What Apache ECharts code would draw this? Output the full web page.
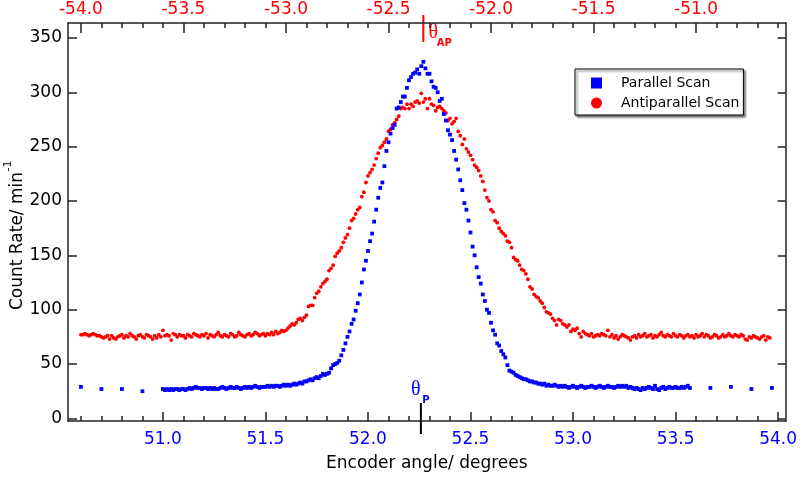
<!DOCTYPE html>
<html><head><meta charset="utf-8">
<script src="https://cdn.jsdelivr.net/npm/echarts@6/dist/echarts.min.js"></script>
<style>html,body{margin:0;padding:0;background:#fff}#c{width:800px;height:477px}</style>
</head><body><div id="c"></div>
<script>
// ---- data ----
const parallelStart = 51.00, parallelStep = 0.01;
const parallelValues = [
27,26,27,26,27,26,27,27,26,27,
27,26,27,28,27,28,29,28,28,27,
28,28,27,28,27,28,27,27,28,29,
28,27,28,29,28,28,29,28,27,28,
29,28,29,28,29,30,29,28,29,29,
29,30,29,30,29,30,30,29,30,31,
30,31,30,31,32,31,32,33,32,34,
34,35,36,35,37,38,37,39,41,40,
41,42,46,49,50,51,53,58,63,69,
75,80,87,91,99,106,114,125,137,145,
154,163,170,181,192,203,212,217,232,246,
254,262,267,270,285,286,291,296,296,304,
311,314,317,318,321,317,324,328,322,317,
317,310,305,304,300,292,294,280,274,265,
261,256,246,238,229,219,210,198,192,182,
171,158,150,139,130,124,114,108,100,97,
88,81,77,69,67,62,59,56,49,44,
43,42,40,39,38,37,36,36,35,34,
34,33,33,32,32,31,32,30,31,30,
30,31,30,29,30,29,30,29,28,29,
30,29,28,29,30,29,28,29,29,30,
29,28,29,30,29,28,29,30,29,29,
28,29,30,29,30,29,30,28,29,28,
27,28,27,26,28,27,28,29,28,27,
30,27,26,28,29,27,28,29,28,28,
29,28,28,29,28,29,30,28
];
const parallelSparseAngles = [50.60,50.70,50.80,50.90,53.67,53.77,53.87,53.97];
const parallelSparseValues = [29,27,27,25,28,29,27,28];

const antiStart = 50.60, antiStep = 0.01;
const antiValues = [
77,77,78,77,76,77,78,77,76,76,
75,74,75,76,73,76,74,73,75,76,
77,74,76,75,78,76,75,73,76,77,
75,74,77,76,75,73,76,74,77,75,
81,76,77,76,72,78,77,75,77,76,
76,74,77,76,75,78,77,76,75,77,
76,78,74,77,76,75,77,79,76,75,
77,76,75,78,77,75,76,79,77,76,
75,77,78,76,77,79,78,76,77,78,
76,78,77,79,77,80,78,79,81,80,
81,83,85,87,86,88,91,92,90,93,
95,103,104,104,111,115,117,121,124,126,
128,136,138,141,149,152,154,157,162,166,
169,175,182,184,188,192,194,204,208,217,
223,226,229,233,239,244,249,251,254,257,
264,266,270,272,275,278,285,286,285,289,
285,289,287,291,292,290,299,291,294,285,
294,289,288,283,286,287,285,283,281,274,
276,271,273,276,264,260,252,257,248,245,
242,238,233,231,228,223,218,210,203,200,
192,190,182,180,175,172,170,168,163,162,
157,148,146,145,141,137,136,133,128,121,
119,114,112,111,108,106,102,98,97,96,
92,90,86,91,90,87,86,84,86,80,
82,81,83,78,75,80,78,77,76,78,
75,76,77,76,78,77,76,81,75,77,
74,76,73,75,77,76,75,74,72,75,
76,74,77,75,76,78,75,76,77,74,
76,75,77,79,76,75,77,76,75,78,
76,75,77,76,74,76,77,75,76,74,
77,75,76,78,75,77,76,74,75,77,
76,74,75,77,75,76,78,76,75,77,
76,75,77,76,73,72,75,74,76,75,
74,73,75,76,72,75,74
];

const bottomLabels = [51.0,51.5,52.0,52.5,53.0,53.5,54.0];
const bottomMinorTicks = [50.6,50.7,50.8,50.9,51.0,51.1,51.2,51.3,51.4,51.5,51.6,51.7,51.8,51.9,52.0,52.1,52.2,52.3,52.4,52.5,52.6,52.7,52.8,52.9,53.0,53.1,53.2,53.3,53.4,53.5,53.6,53.7,53.8,53.9,54.0];
const topLabels = [-54.0,-53.5,-53.0,-52.5,-52.0,-51.5,-51.0];
const topMinorTicks = [-54.0,-53.9,-53.8,-53.7,-53.6,-53.5,-53.4,-53.3,-53.2,-53.1,-53.0,-52.9,-52.8,-52.7,-52.6,-52.5,-52.4,-52.3,-52.2,-52.1,-52.0,-51.9,-51.8,-51.7,-51.6,-51.5,-51.4,-51.3,-51.2,-51.1,-51.0,-50.9,-50.8,-50.7,-50.6];
const yLabels = [0,50,100,150,200,250,300,350];
const thetaP = 52.258;   // bottom-axis position of theta_P marker
const thetaAP = -52.33;  // top-axis position of theta_AP marker

// ---- build ----
const FONT = 'DejaVu Sans';
const parallelData = parallelValues.map((v,i)=>[+(parallelStart+i*parallelStep).toFixed(3), v]);
parallelSparseAngles.forEach((a,i)=>parallelData.push([a, parallelSparseValues[i]]));
const antiData = antiValues.map((v,i)=>[+(antiStart+i*antiStep).toFixed(3), v]);

const BMIN = 50.537, BMAX = 54.037, TMIN = -54.063, TMAX = -50.563;
const YMIN = -2.4, YMAX = 363.7;
const lineStyle = {color:'#222', width:1.5};

const chart = echarts.init(document.getElementById('c'), null, {renderer:'canvas'});
chart.setOption({
  animation:false,
  backgroundColor:'#fff',
  grid:{left:68, right:12, top:23, bottom:52, containLabel:false},
  xAxis:[
    {type:'value', position:'bottom', min:BMIN, max:BMAX,
     axisLine:{show:true, onZero:false, lineStyle},
     axisTick:{show:true, inside:true, length:9, customValues:bottomLabels, lineStyle},
     axisLabel:{customValues:bottomLabels, formatter:v=>v.toFixed(1), color:'#0000ff', fontSize:17, fontFamily:FONT, margin:10},
     splitLine:{show:false},
     name:'Encoder angle/ degrees', nameLocation:'middle', nameGap:34,
     nameTextStyle:{fontSize:17, fontFamily:FONT, color:'#000'}},
    {type:'value', position:'bottom', min:BMIN, max:BMAX,
     axisLine:{show:false, onZero:false},
     axisTick:{show:true, inside:true, length:5, customValues:bottomMinorTicks, lineStyle},
     axisLabel:{show:false}, splitLine:{show:false}},
    {type:'value', position:'top', min:TMIN, max:TMAX,
     axisLine:{show:true, onZero:false, lineStyle},
     axisTick:{show:true, inside:true, length:10, customValues:topLabels, lineStyle},
     axisLabel:{customValues:topLabels, formatter:v=>v.toFixed(1), color:'#ff0000', fontSize:17, fontFamily:FONT, margin:5},
     splitLine:{show:false}},
    {type:'value', position:'top', min:TMIN, max:TMAX,
     axisLine:{show:false, onZero:false},
     axisTick:{show:true, inside:true, length:5, customValues:topMinorTicks, lineStyle},
     axisLabel:{show:false}, splitLine:{show:false}}
  ],
  yAxis:[
    {type:'value', position:'left', min:YMIN, max:YMAX,
     axisLine:{show:true, onZero:false, lineStyle},
     axisTick:{show:true, inside:true, length:9, customValues:yLabels, lineStyle},
     axisLabel:{customValues:yLabels, color:'#000', fontSize:17, fontFamily:FONT, margin:6},
     splitLine:{show:false}},
    {type:'value', position:'right', min:YMIN, max:YMAX,
     axisLine:{show:true, onZero:false, lineStyle},
     axisTick:{show:true, inside:true, length:8, customValues:yLabels, lineStyle},
     axisLabel:{show:false}, splitLine:{show:false}}
  ],
  legend:{
    orient:'vertical', left:575, top:69,
    data:[{name:'Parallel Scan', icon:'rect'},{name:'Antiparallel Scan', icon:'circle'}],
    itemWidth:11, itemHeight:11, itemGap:4,
    padding:[6,4,4,16],
    textStyle:{fontSize:14, fontFamily:FONT, color:'#000', lineHeight:16, padding:[0,0,0,14]},
    backgroundColor:'#fff', borderColor:'#000', borderWidth:1, borderRadius:0,
    shadowColor:'rgba(0,0,0,0.55)', shadowBlur:2, shadowOffsetX:2, shadowOffsetY:2
  },
  series:[
    {name:'Antiparallel Scan', type:'scatter', xAxisIndex:0, yAxisIndex:0,
     symbol:'circle', symbolSize:3.8, itemStyle:{color:'#ff0000', opacity:1}, data:antiData},
    {name:'Parallel Scan', type:'scatter', xAxisIndex:0, yAxisIndex:0,
     symbol:'rect', symbolSize:3.8, itemStyle:{color:'#0000ff', opacity:1}, data:parallelData}
  ]
});

// ---- annotations positioned through the axes ----
const xP = chart.convertToPixel({xAxisIndex:0}, thetaP);
const xAP = chart.convertToPixel({xAxisIndex:2}, thetaAP);
const yTop = chart.convertToPixel({yAxisIndex:0}, YMAX);
const yBot = chart.convertToPixel({yAxisIndex:0}, YMIN);
chart.setOption({
  graphic:[
    {type:'text', x:18, y:241, rotation:Math.PI/2,
     style:{text:'Count Rate/ min', align:'center', verticalAlign:'middle', fontSize:17, fontFamily:FONT, fill:'#000'}},
    {type:'text', x:8, y:166, rotation:Math.PI/2,
     style:{text:'-1', align:'center', verticalAlign:'middle', fontSize:11, fontFamily:FONT, fill:'#000'}},
    {type:'line', shape:{x1:xP, y1:yBot-18, x2:xP, y2:yBot+13}, style:{stroke:'#000', lineWidth:2}},
    {type:'text', x:xP-5, y:yBot-31, style:{text:'θ', fontSize:20, fontFamily:'Liberation Serif', fill:'#0000ff', align:'center', verticalAlign:'middle'}},
    {type:'text', x:xP+5, y:yBot-21, style:{text:'P', fontSize:10, fontWeight:'bold', fontFamily:FONT, fill:'#0000ff', align:'center', verticalAlign:'middle'}},
    {type:'line', shape:{x1:xAP, y1:yTop-8, x2:xAP, y2:yTop+19}, style:{stroke:'#ff0000', lineWidth:2}},
    {type:'text', x:xAP+10, y:yTop+10, style:{text:'θ', fontSize:20, fontFamily:'Liberation Serif', fill:'#ff0000', align:'center', verticalAlign:'middle'}},
    {type:'text', x:xAP+21, y:yTop+20, style:{text:'AP', fontSize:10, fontWeight:'bold', fontFamily:FONT, fill:'#ff0000', align:'center', verticalAlign:'middle'}}
  ]
});
</script></body></html>
